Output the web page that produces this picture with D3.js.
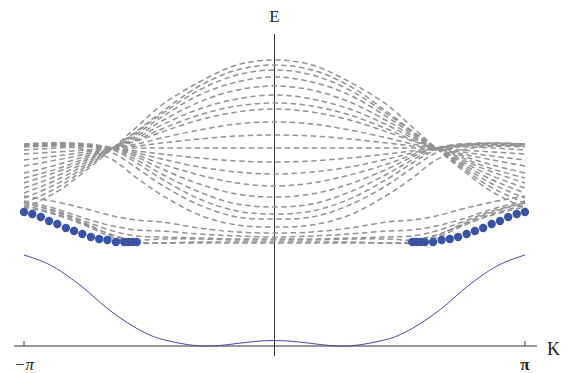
<!DOCTYPE html>
<html>
<head>
<meta charset="utf-8">
<script src="https://cdn.jsdelivr.net/npm/d3@7"></script>
<style>
  body { margin: 0; background: white; }
  svg { display: block; }
  text { font-family: "Liberation Serif", "DejaVu Serif", serif; fill: #222; }
</style>
</head>
<body>
<div id="container"></div>
<script>
let w = 573;
let h = 373;

// k positions (in units of pi) where the bulk bands were read, k >= 0 half
let kSamples = [0, 0.15, 0.3, 0.45, 0.55, 0.645, 0.75, 0.87, 1.0];

// bulk bands, energy at each kSample (mirror symmetric in k)
let bulkBands = [
  [2.86, 2.81, 2.64, 2.41, 2.19, 1.98, 1.76, 1.54, 1.38],
  [2.81, 2.76, 2.60, 2.34, 2.15, 1.98, 1.78, 1.58, 1.43],
  [2.76, 2.71, 2.56, 2.32, 2.14, 1.98, 1.80, 1.62, 1.48],
  [2.69, 2.64, 2.51, 2.29, 2.12, 1.98, 1.82, 1.66, 1.53],
  [2.60, 2.56, 2.44, 2.25, 2.10, 1.98, 1.84, 1.70, 1.58],
  [2.51, 2.47, 2.37, 2.21, 2.08, 1.98, 1.86, 1.74, 1.63],
  [2.43, 2.40, 2.31, 2.17, 2.06, 1.98, 1.88, 1.77, 1.68],
  [2.37, 2.34, 2.26, 2.14, 2.05, 1.98, 1.90, 1.81, 1.73],
  [2.24, 2.22, 2.16, 2.08, 2.02, 1.98, 1.92, 1.86, 1.80],
  [2.11, 2.10, 2.07, 2.03, 2.00, 1.98, 1.94, 1.90, 1.86],
  [1.98, 1.98, 1.98, 1.98, 1.98, 1.98, 1.96, 1.94, 1.92],
  [1.84, 1.85, 1.88, 1.92, 1.95, 1.98, 1.99, 1.98, 1.96],
  [1.72, 1.74, 1.79, 1.87, 1.93, 1.98, 2.00, 2.00, 1.99],
  [1.60, 1.63, 1.71, 1.82, 1.91, 1.98, 2.01, 2.01, 2.00],
  [1.49, 1.52, 1.62, 1.77, 1.89, 1.98, 2.02, 2.02, 2.01],
  [1.39, 1.42, 1.54, 1.72, 1.86, 1.97, 2.02, 2.03, 2.02],
  [1.32, 1.35, 1.47, 1.67, 1.83, 1.96, 2.01, 2.03, 2.02],
  [1.27, 1.29, 1.41, 1.61, 1.78, 1.93, 2.00, 2.02, 2.02],
  [1.19, 1.21, 1.31, 1.51, 1.68, 1.86, 1.96, 2.00, 2.01],
  [1.13, 1.14, 1.18, 1.24, 1.26, 1.30, 1.37, 1.44, 1.50],
  [1.09, 1.10, 1.12, 1.15, 1.16, 1.20, 1.27, 1.37, 1.45],
  [1.07, 1.07, 1.08, 1.09, 1.10, 1.15, 1.24, 1.35, 1.43],
  [1.06, 1.06, 1.07, 1.07, 1.06, 1.11, 1.21, 1.32, 1.41],
  [1.04, 1.04, 1.04, 1.03, 1.03, 1.08, 1.20, 1.31, 1.39],
  [1.03, 1.03, 1.03, 1.03, 1.04, 1.10, 1.22, 1.34, 1.43]
];

// edge states (dots), k >= 0 half
let edgeK = [1, 0.967, 0.933, 0.9, 0.867, 0.833, 0.8, 0.767, 0.733, 0.7, 0.667, 0.633, 0.6, 0.583, 0.567, 0.55];
let edgeE = [1.34, 1.32, 1.29, 1.25, 1.22, 1.18, 1.15, 1.12, 1.09, 1.07, 1.06, 1.04, 1.04, 1.04, 1.04, 1.04];

// lowest solid band, k >= 0 half
let solidK = [0, 0.15, 0.29, 0.421, 0.489, 0.553, 0.621, 0.689, 0.752, 0.82, 0.888, 0.952, 1.0];
let solidE = [0.055, 0.025, 0.0, 0.05, 0.10, 0.18, 0.29, 0.42, 0.56, 0.69, 0.80, 0.87, 0.91];

let tickValues = [-Math.PI, Math.PI];
let tickLabels = ["\u2212\u03c0", "\u03c0"];

let viz = d3.select("#container").append("svg")
    .attr("width", w)
    .attr("height", h)
    .style("background-color", "white");

let x = d3.scaleLinear().domain([-Math.PI, Math.PI]).range([24, 525]);
let y = d3.scaleLinear().domain([0, 3.1]).range([346, 36]);

// mirror a k>=0 half into full [-pi, pi]
function mirror(ks, es) {
  let pts = ks.map((k, i) => [k * Math.PI, es[i]]);
  let neg = pts.filter(p => p[0] > 0).map(p => [-p[0], p[1]]).reverse();
  return neg.concat(pts);
}

let lineMaker = d3.line()
    .x(d => x(d[0]))
    .y(d => y(d[1]))
    .curve(d3.curveCatmullRom.alpha(0.5));

let smoothLine = d3.line()
    .x(d => x(d[0]))
    .y(d => y(d[1]))
    .curve(d3.curveNatural);

// axes
viz.append("line")
    .attr("x1", 14).attr("x2", 537)
    .attr("y1", y(0)).attr("y2", y(0))
    .attr("stroke", "#333").attr("stroke-width", 1);
viz.append("line")
    .attr("x1", x(0)).attr("x2", x(0))
    .attr("y1", 34).attr("y2", 356)
    .attr("stroke", "#333").attr("stroke-width", 1);

viz.selectAll(".tick").data(tickValues).enter()
  .append("line")
    .attr("class", "tick")
    .attr("x1", d => x(d)).attr("x2", d => x(d))
    .attr("y1", y(0)).attr("y2", y(0) - 5)
    .attr("stroke", "#333");

viz.selectAll(".ticklabel").data(tickValues).enter()
  .append("text")
    .attr("class", "ticklabel")
    .attr("x", d => x(d))
    .attr("y", 370)
    .attr("text-anchor", "middle")
    .style("font-size", "17px")
    .style("font-style", (d, i) => i == 0 ? "italic" : "normal")
    .style("font-weight", (d, i) => i == 1 ? "bold" : "normal")
    .text((d, i) => tickLabels[i]);

viz.append("text").attr("x", x(0)).attr("y", 22).attr("text-anchor", "middle")
    .style("font-size", "17px").text("E");
viz.append("text").attr("x", 547).attr("y", 355)
    .style("font-size", "18px").text("K");

// bulk bands
viz.selectAll(".band").data(bulkBands).enter()
  .append("path")
    .attr("class", "band")
    .attr("d", d => lineMaker(mirror(kSamples, d)))
    .attr("fill", "none")
    .attr("stroke", "#929292")
    .attr("stroke-width", 1.5)
    .attr("stroke-dasharray", "5.5,3.5");

// solid band
viz.append("path")
    .attr("d", smoothLine(mirror(solidK, solidE)))
    .attr("fill", "none")
    .attr("stroke", "#4848a8")
    .attr("stroke-width", 1);

// edge states
let dots = edgeK.map((k, i) => [k * Math.PI, edgeE[i]]);
dots = dots.concat(dots.map(p => [-p[0], p[1]]));
viz.selectAll(".edge").data(dots).enter()
  .append("circle")
    .attr("class", "edge")
    .attr("cx", d => x(d[0]))
    .attr("cy", d => y(d[1]))
    .attr("r", 4.2)
    .attr("fill", "#3a53a4");
</script>
</body>
</html>
